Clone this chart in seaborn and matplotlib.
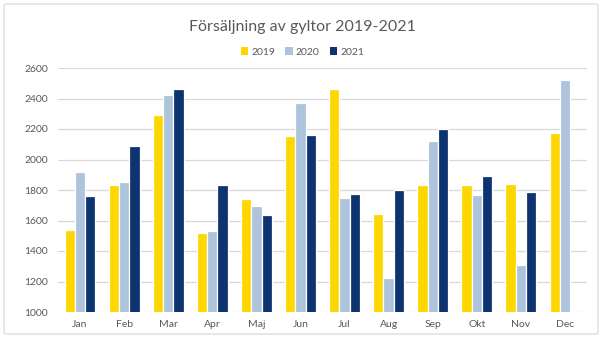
import matplotlib
matplotlib.use("Agg")
import matplotlib.pyplot as plt
from matplotlib.patches import FancyBboxPatch, Patch
import seaborn as sns
import pandas as pd

# Monthly sales of gyltor per year
months = ["Jan", "Feb", "Mar", "Apr", "Maj", "Jun", "Jul", "Aug", "Sep", "Okt", "Nov", "Dec"]
sales_2019 = [1540, 1830, 2290, 1520, 1740, 2155, 2460, 1640, 1830, 1835, 1840, 2175]
sales_2020 = [1920, 1850, 2420, 1530, 1695, 2370, 1745, 1225, 2120, 1765, 1305, 2520]
sales_2021 = [1760, 2090, 2460, 1830, 1635, 2160, 1775, 1800, 2200, 1890, 1785, None]
years = ["2019", "2020", "2021"]
yticks = [1000, 1200, 1400, 1600, 1800, 2000, 2200, 2400, 2600]

colors = {"2019": "#FFD700", "2020": "#ADC4DC", "2021": "#0D3370"}
text_color = "#595959"

rows = []
for yr, vals in zip(years, [sales_2019, sales_2020, sales_2021]):
    for m, v in zip(months, vals):
        if v is not None:
            rows.append({"Månad": m, "År": yr, "Försäljning": v})
df = pd.DataFrame(rows)

sns.set_theme(style="white")
plt.rcParams["font.family"] = ["Lato", "DejaVu Sans"]

fig = plt.figure(figsize=(6.05, 3.41), dpi=100)
ax = fig.add_axes([58 / 605, 1 - 312 / 341, (587 - 58) / 605, (312 - 68) / 341])

sns.barplot(data=df, x="Månad", y="Försäljning", hue="År", order=months,
            hue_order=years, palette=colors, saturation=1, width=0.70, ax=ax,
            edgecolor="white", linewidth=0.9, legend=False)

ax.set_ylim(1000, 2600)
ax.set_yticks(yticks)
ax.set_xlim(-0.5, len(months) - 0.5)
ax.grid(axis="y", color="#D9D9D9", linewidth=0.9)
ax.set_axisbelow(True)
for s in ax.spines.values():
    s.set_visible(False)
ax.set_xlabel("")
ax.set_ylabel("")
ax.tick_params(axis="both", length=0, colors=text_color, labelsize=7.5)
ax.tick_params(axis="y", pad=7)
ax.tick_params(axis="x", pad=6)

# Title and legend
fig.text(0.5, 1 - 27 / 341, "Försäljning av gyltor 2019-2021", ha="center", va="center",
         fontsize=11.5, color=text_color)
handles = [Patch(facecolor=colors[y], edgecolor="none", label=y) for y in years]
fig.legend(handles=handles, loc="center", bbox_to_anchor=(0.5, 1 - 52 / 341), ncol=3,
           frameon=False, fontsize=7.5, labelcolor=text_color, handlelength=0.7,
           handleheight=0.7, handletextpad=0.3, columnspacing=1.0)

# Light frame around the chart area
frame = FancyBboxPatch((4 / 605, 7 / 341), 594 / 605, 330 / 341,
                       boxstyle="round,pad=0,rounding_size=0.004",
                       transform=fig.transFigure, facecolor="none",
                       edgecolor="#D9D9D9", linewidth=0.9)
fig.add_artist(frame)

fig.savefig("out.png", dpi=100, facecolor="white")
